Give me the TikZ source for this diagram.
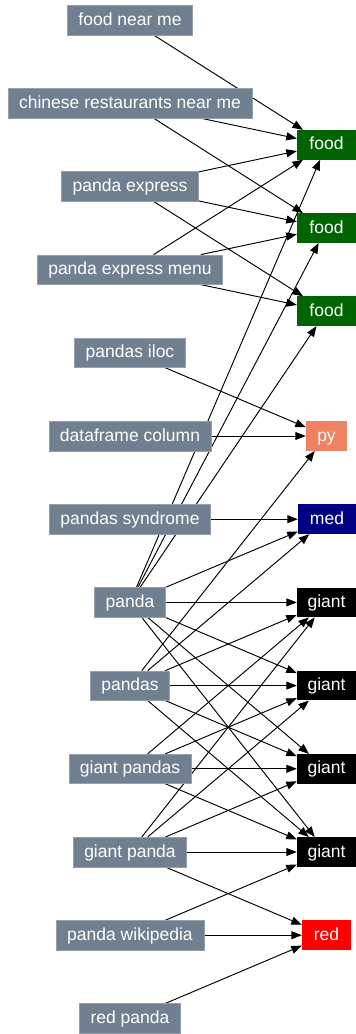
\documentclass[tikz,border=0pt]{standalone}
\usepackage{fontspec}
\setmainfont{Liberation Sans}
\usetikzlibrary{arrows.meta}
\definecolor{slate}{HTML}{708090}
\definecolor{dgreen}{HTML}{006400}
\definecolor{salm}{HTML}{EE8262}
\definecolor{navyc}{HTML}{000080}
\definecolor{redc}{HTML}{FF0000}
\pgfdeclarelayer{edgelayer}
\pgfsetlayers{edgelayer,main}
\tikzset{
  base/.style={rectangle, text=white, font=\fontsize{17.5}{20}\selectfont,
    text height=13.3pt, text depth=3.3pt, minimum height=29.5pt, inner ysep=0pt},
  query/.style={base, fill=slate, draw=slate!75!white, line width=0.5pt, inner xsep=11pt},
  target/.style={base, inner xsep=0pt},
  conn/.style={line width=0.95pt, -{Triangle[length=10.5pt,width=8pt]}},
}
\begin{document}
\begin{tikzpicture}[x=1pt,y=-1pt]
\useasboundingbox (0,0) rectangle (356,1034);
% left column
\node[query] (fnm)  at (130,20.0)  {food near me};
\node[query] (chi)  at (130,103.2) {chinese restaurants near me};
\node[query] (pe)   at (130,186.4) {panda express};
\node[query] (pem)  at (130,269.6) {panda express menu};
\node[query] (iloc) at (130,352.8) {pandas iloc};
\node[query] (df)   at (130,436.0) {dataframe column};
\node[query] (syn)  at (130,519.2) {pandas syndrome};
\node[query] (pa)   at (130,602.4) {panda};
\node[query] (pas)  at (130,685.6) {pandas};
\node[query] (gps)  at (130,768.8) {giant pandas};
\node[query] (gp)   at (130,852.0) {giant panda};
\node[query] (wiki) at (130,935.2) {panda wikipedia};
\node[query] (rp)   at (130,1018.4) {red panda};
% right column
\node[target, fill=dgreen, minimum width=59pt] (f1) at (326.5,144.8) {food};
\node[target, fill=dgreen, minimum width=59pt] (f2) at (326.5,228.0) {food};
\node[target, fill=dgreen, minimum width=59pt] (f3) at (326.5,311.2) {food};
\node[target, fill=salm, minimum width=41pt] (py) at (326.5,436.0) {py};
\node[target, fill=navyc, minimum width=58pt] (med) at (327,519.2) {med};
\node[target, fill=black, minimum width=59pt] (g1) at (326.5,602.4) {giant};
\node[target, fill=black, minimum width=59pt] (g2) at (326.5,685.6) {giant};
\node[target, fill=black, minimum width=59pt] (g3) at (326.5,768.8) {giant};
\node[target, fill=black, minimum width=59pt] (g4) at (326.5,852.0) {giant};
\node[target, fill=redc, minimum width=49pt] (red) at (326.5,935.2) {red};
% edges
\begin{pgfonlayer}{edgelayer}
\foreach \a/\b in {fnm/f1, chi/f1, chi/f2, pe/f1, pe/f2, pe/f3, pem/f1, pem/f2, pem/f3,
  iloc/py, df/py, syn/med,
  pa/f1, pa/f2, pa/f3, pa/med, pa/g1, pa/g2, pa/g3, pa/g4,
  pas/py, pas/med, pas/g1, pas/g2, pas/g3, pas/g4,
  gps/g1, gps/g2, gps/g3, gps/g4,
  gp/g1, gp/g2, gp/g3, gp/g4, gp/red,
  wiki/g4, wiki/red, rp/red}
  \draw[conn] (\a) -- (\b);
\end{pgfonlayer}
\end{tikzpicture}
\end{document}
